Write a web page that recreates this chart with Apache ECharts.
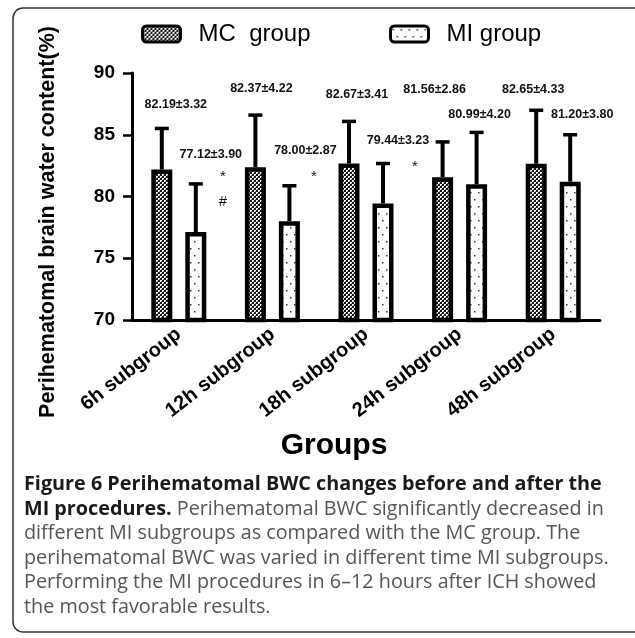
<!DOCTYPE html>
<html>
<head>
<meta charset="utf-8">
<script src="https://cdn.jsdelivr.net/npm/echarts@6/dist/echarts.min.js"></script>
<style>
html,body{margin:0;padding:0;background:#fff;}
#chart{width:635px;height:638px;}
</style>
</head>
<body>
<div id="chart"></div>
<script>
// ---- data ----
const categories = ['6h subgroup', '12h subgroup', '18h subgroup', '24h subgroup', '48h subgroup'];
const seriesNames = ['MC  group', 'MI group'];
const mcMean = [82.19, 82.37, 82.67, 81.56, 82.65];
const mcSD = [3.32, 4.22, 3.41, 2.86, 4.33];
const miMean = [77.12, 78.00, 79.44, 80.99, 81.20];
const miSD = [3.90, 2.87, 3.23, 4.20, 3.80];
const yTicks = [70, 75, 80, 85, 90];
const yTitle = 'Perihematomal brain water content(%)';
const xTitle = 'Groups';
const sigMarks = ['*', '#', '*', '*'];
const captionBold1 = 'Figure 6 Perihematomal BWC changes before and after the';
const captionBold2 = 'MI procedures.';
const captionLines = [
  ' Perihematomal BWC significantly decreased in',
  'different MI subgroups as compared with the MC group. The',
  'perihematomal BWC was varied in different time MI subgroups.',
  'Performing the MI procedures in 6\u201312 hours after ICH showed',
  'the most favorable results.'
];

// ---- layout (pixels) ----
const FONT = '"Liberation Sans", Arial, sans-serif';
const CAPFONT = '"Open Sans", "Noto Sans", sans-serif';
const BAR_W = 21, BAR_BORDER = 4.5, HALF_SEP = 17;
// value-label placement: [dx from category centre, y pixel]
const mcLabelPos = [[-3, 105], [-11, 89], [-9, 95], [-25, 90], [-20, 90]];
const miLabelPos = [[32, 155], [33, 151], [32, 141], [20, 115], [29, 115]];
const sigPos = [[223, 177], [223, 202], [314, 177], [415, 167]];
const capX = 24;
const capY = [484, 509, 533, 558, 582, 607];
const capSize = 19.8;

function makePattern(kind) {
  const c = document.createElement('canvas');
  if (kind === 'mc') {
    c.width = 4; c.height = 4;
    const g = c.getContext('2d');
    g.fillStyle = '#1a1a1a'; g.fillRect(0, 0, 4, 4);
    g.fillStyle = '#ffffff';
    g.fillRect(0, 0, 2, 2); g.fillRect(2, 2, 2, 2);
    g.fillStyle = '#8a8a8a';
    g.fillRect(1, 1, 1, 1); g.fillRect(3, 3, 1, 1);
  } else {
    c.width = 8; c.height = 14;
    const g = c.getContext('2d');
    g.fillStyle = '#ffffff'; g.fillRect(0, 0, 8, 14);
    g.fillStyle = '#333333';
    g.fillRect(2, 3, 1.5, 1.5); g.fillRect(6, 10, 1.5, 1.5);
  }
  return { image: c, repeat: 'repeat' };
}
const mcFill = makePattern('mc');
const miFill = makePattern('mi');

const chart = echarts.init(document.getElementById('chart'), null, { renderer: 'canvas' });

function errRender(offset) {
  return function (params, api) {
    const i = api.value(0);
    const base = api.coord([i, api.value(1)]);
    const top = api.coord([i, api.value(1) + api.value(2)]);
    const x = base[0] + offset;
    return {
      type: 'group',
      children: [
        { type: 'line', shape: { x1: x, y1: base[1], x2: x, y2: top[1] }, style: { stroke: '#000', lineWidth: 4 } },
        { type: 'line', shape: { x1: x - 7, y1: top[1], x2: x + 7, y2: top[1] }, style: { stroke: '#000', lineWidth: 3.5 } }
      ]
    };
  };
}
function labelRender(pos) {
  return function (params, api) {
    const i = api.value(0);
    const c = api.coord([i, 70]);
    const p = pos[params.dataIndex];
    return {
      type: 'text',
      x: c[0] + p[0], y: p[1],
      style: {
        text: api.value(1).toFixed(2) + '\u00b1' + api.value(2).toFixed(2),
        align: 'center', verticalAlign: 'middle',
        font: 'bold 12.5px ' + FONT, fill: '#111'
      }
    };
  };
}

const mcData = categories.map((c, i) => [i, mcMean[i], mcSD[i]]);
const miData = categories.map((c, i) => [i, miMean[i], miSD[i]]);

const graphics = [
  { type: 'rect', shape: { x: 13, y: 8, width: 680, height: 624, r: 10 }, style: { fill: 'none', stroke: '#333', lineWidth: 1.5 }, z: 0 },
  { type: 'text', x: 48, y: 222, rotation: Math.PI / 2,
    style: { text: yTitle, font: 'bold 21.5px ' + FONT, fill: '#000', align: 'center', verticalAlign: 'middle' } },
  { type: 'text', x: 334, y: 446,
    style: { text: xTitle, font: 'bold 30px ' + FONT, fill: '#000', align: 'center', verticalAlign: 'middle' } }
];
sigMarks.forEach((m, k) => {
  graphics.push({ type: 'text', x: sigPos[k][0], y: sigPos[k][1],
    style: { text: m, font: '15px ' + FONT, fill: '#111', align: 'center', verticalAlign: 'middle' } });
});
graphics.push({ type: 'text', x: capX, y: capY[0],
  style: { text: captionBold1, font: 'bold ' + capSize + 'px ' + CAPFONT, fill: '#1a1a1a', verticalAlign: 'middle' } });
graphics.push({ type: 'text', x: capX, y: capY[1],
  style: { text: '{b|' + captionBold2 + '}{r|' + captionLines[0] + '}', verticalAlign: 'middle',
    rich: { b: { font: 'bold ' + capSize + 'px ' + CAPFONT, fill: '#1a1a1a' }, r: { font: capSize + 'px ' + CAPFONT, fill: '#555' } } } });
for (let k = 1; k < captionLines.length; k++) {
  graphics.push({ type: 'text', x: capX, y: capY[k + 1],
    style: { text: captionLines[k], font: capSize + 'px ' + CAPFONT, fill: '#555', verticalAlign: 'middle' } });
}

const legendBase = {
  icon: 'roundRect', itemWidth: 38, itemHeight: 16, top: 22, padding: 0,
  itemStyle: { borderColor: '#000', borderWidth: 3 },
  textStyle: { fontFamily: FONT, fontSize: 24, color: '#000', padding: [0, 0, 0, 13] }
};

chart.setOption({
  animation: false,
  backgroundColor: '#fff',
  legend: [
    Object.assign({}, legendBase, { data: [seriesNames[0]], left: 141 }),
    Object.assign({}, legendBase, { data: [seriesNames[1]], left: 389 })
  ],
  grid: { left: 132, right: 35, top: 73, bottom: 318, containLabel: false },
  xAxis: {
    type: 'category', data: categories,
    axisLine: { lineStyle: { color: '#000', width: 3 } },
    axisTick: { alignWithLabel: true, length: 8, lineStyle: { color: '#000', width: 2.5 } },
    axisLabel: { interval: 0, rotate: 38, margin: 12, fontFamily: FONT, fontWeight: 'bold', fontSize: 20, color: '#000' }
  },
  yAxis: {
    type: 'value', min: yTicks[0], max: yTicks[yTicks.length - 1], interval: yTicks[1] - yTicks[0],
    splitLine: { show: false },
    axisLine: { show: true, lineStyle: { color: '#000', width: 3 } },
    axisTick: { show: true, length: 9, lineStyle: { color: '#000', width: 2.5 } },
    axisLabel: { margin: 17, fontFamily: FONT, fontWeight: 'bold', fontSize: 19, color: '#000' }
  },
  graphic: graphics,
  series: [
    { name: seriesNames[0], type: 'bar', data: mcMean, barWidth: BAR_W, barGap: ((2 * HALF_SEP - BAR_W) / BAR_W * 100) + '%',
      itemStyle: { color: mcFill, borderColor: '#000', borderWidth: BAR_BORDER }, z: 2 },
    { name: seriesNames[1], type: 'bar', data: miMean, barWidth: BAR_W,
      itemStyle: { color: miFill, borderColor: '#000', borderWidth: BAR_BORDER }, z: 2 },
    { type: 'custom', data: mcData, renderItem: errRender(-HALF_SEP), z: 3, encode: { x: 0, y: 1 } },
    { type: 'custom', data: miData, renderItem: errRender(HALF_SEP), z: 3, encode: { x: 0, y: 1 } },
    { type: 'custom', data: mcData, renderItem: labelRender(mcLabelPos), z: 4, encode: { x: 0, y: 1 } },
    { type: 'custom', data: miData, renderItem: labelRender(miLabelPos), z: 4, encode: { x: 0, y: 1 } }
  ]
});
</script>
</body>
</html>
